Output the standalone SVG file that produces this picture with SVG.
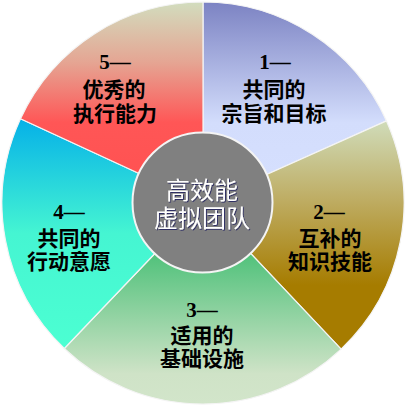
<svg xmlns="http://www.w3.org/2000/svg" width="405" height="406" viewBox="0 0 405 406">
<style>
.seg{stroke:#f4f4f4;stroke-width:1.2;stroke-linejoin:round}
.lbl{font-family:"Liberation Serif","Noto Sans CJK SC",serif;font-weight:bold;font-size:21px;fill:#000;text-anchor:middle}
.ctr{font-family:"Liberation Serif","Noto Sans CJK SC",serif;font-size:24px;fill:#fff;text-anchor:middle}
</style>
<defs>
<linearGradient id="g1" x1="0" y1="0" x2="0" y2="1"><stop offset="0" stop-color="#7C83C3"/><stop offset="0.6" stop-color="#D3DDFC"/><stop offset="1" stop-color="#D6E0FF"/></linearGradient>
<linearGradient id="g2" x1="0" y1="0" x2="0" y2="1"><stop offset="0" stop-color="#D0DCBA"/><stop offset="0.35" stop-color="#BEAC62"/><stop offset="0.72" stop-color="#A67C00"/><stop offset="1" stop-color="#A67C00"/></linearGradient>
<linearGradient id="g3" x1="0" y1="0" x2="0" y2="1"><stop offset="0" stop-color="#3CB96C"/><stop offset="0.26" stop-color="#52C27C"/><stop offset="0.85" stop-color="#CFE3C7"/><stop offset="1" stop-color="#D2E5CA"/></linearGradient>
<linearGradient id="g4" x1="0" y1="0" x2="0" y2="1"><stop offset="0" stop-color="#05B0E8"/><stop offset="0.5" stop-color="#45F5D2"/><stop offset="1" stop-color="#4CFFD2"/></linearGradient>
<linearGradient id="g5" x1="0" y1="0" x2="0" y2="1"><stop offset="0" stop-color="#D2DDBE"/><stop offset="0.3" stop-color="#E5A593"/><stop offset="0.6" stop-color="#FF5656"/><stop offset="1" stop-color="#FF5050"/></linearGradient>
<filter id="sh" x="-10%" y="-10%" width="120%" height="120%"><feDropShadow dx="0.8" dy="0.8" stdDeviation="0.3" flood-color="#10105a" flood-opacity="0.9"/></filter>
</defs>
<g id="seg1"><path class="seg" fill="url(#g1)" d="M203,203 L203,2 A201,201 0 0 1 386.5,120.9 Z"/>
<text class="lbl" x="275" y="69">1—</text><text class="lbl" x="274" y="97">共同的</text><text class="lbl" x="274" y="121">宗旨和目标</text></g>
<g id="seg2"><path class="seg" fill="url(#g2)" d="M203,203 L386.5,120.9 A201,201 0 0 1 341.1,349.1 Z"/>
<text class="lbl" x="329" y="219">2—</text><text class="lbl" x="330" y="246">互补的</text><text class="lbl" x="330" y="269">知识技能</text></g>
<g id="seg3"><path class="seg" fill="url(#g3)" d="M203,203 L341.1,349.1 A201,201 0 0 1 64.3,348.5 Z"/>
<text class="lbl" x="202" y="317">3—</text><text class="lbl" x="202" y="343">适用的</text><text class="lbl" x="202" y="366">基础设施</text></g>
<g id="seg4"><path class="seg" fill="url(#g4)" d="M203,203 L64.3,348.5 A201,201 0 0 1 20.5,118.7 Z"/>
<text class="lbl" x="69" y="219">4—</text><text class="lbl" x="69" y="246">共同的</text><text class="lbl" x="69" y="269">行动意愿</text></g>
<g id="seg5"><path class="seg" fill="url(#g5)" d="M203,203 L20.5,118.7 A201,201 0 0 1 203,2 Z"/>
<text class="lbl" x="115" y="69">5—</text><text class="lbl" x="114" y="97">优秀的</text><text class="lbl" x="115" y="121">执行能力</text></g>
<g id="center"><circle cx="202.5" cy="202.5" r="70" fill="#808080" stroke="#f4f4f4" stroke-width="2"/>
<g filter="url(#sh)"><text class="ctr" x="202" y="199">高效能</text><text class="ctr" x="202" y="227">虚拟团队</text></g></g>
</svg>
